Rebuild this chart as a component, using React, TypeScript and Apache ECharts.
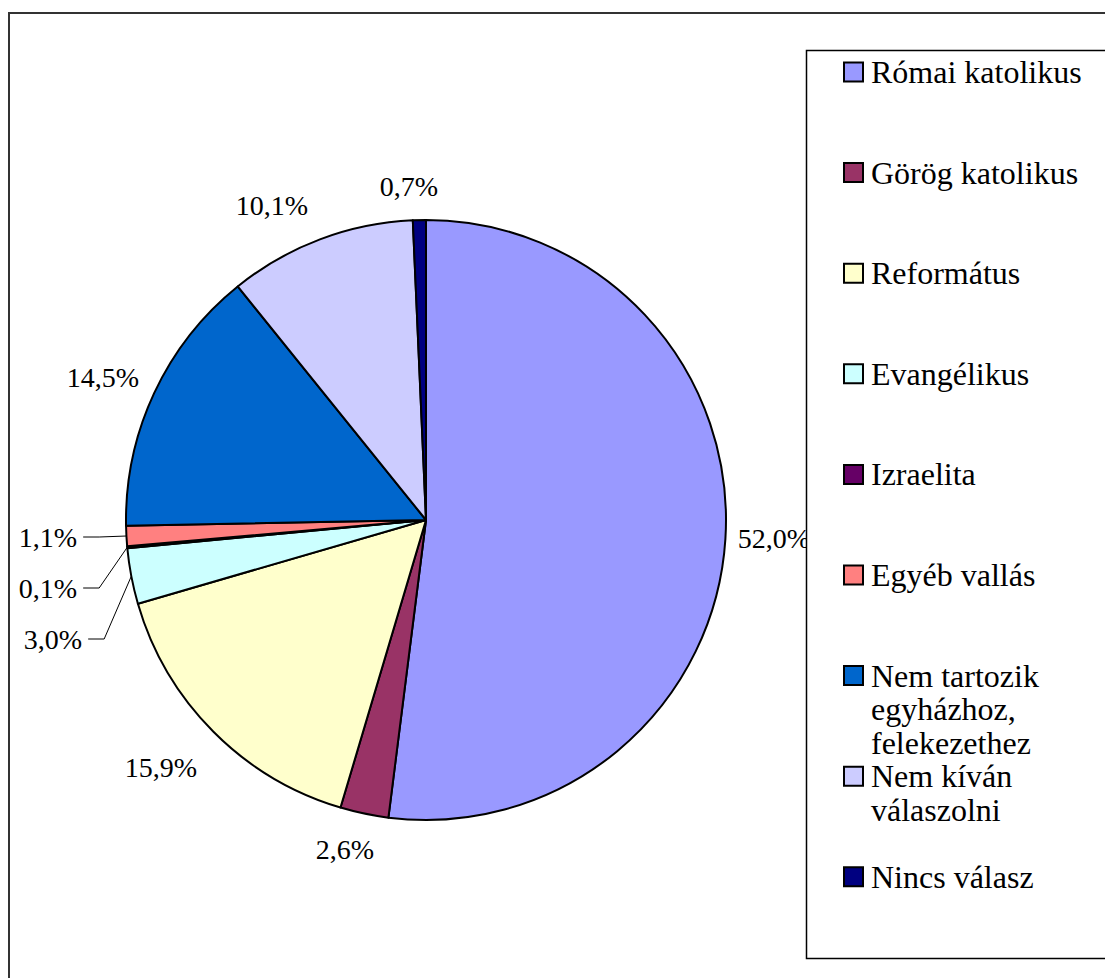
import React, { useEffect, useRef } from "react";
import * as echarts from "echarts";

// ---- data ----
const CATEGORIES = [
  "Római katolikus",
  "Görög katolikus",
  "Református",
  "Evangélikus",
  "Izraelita",
  "Egyéb vallás",
  "Nem tartozik egyházhoz, felekezethez",
  "Nem kíván válaszolni",
  "Nincs válasz",
];
const LEGEND_TEXT = [
  "Római katolikus",
  "Görög katolikus",
  "Református",
  "Evangélikus",
  "Izraelita",
  "Egyéb vallás",
  "Nem tartozik\negyházhoz,\nfelekezethez",
  "Nem kíván\nválaszolni",
  "Nincs válasz",
];
const VALUES = [52.0, 2.6, 15.9, 3.0, 0.1, 1.1, 14.5, 10.1, 0.7];
const COLORS = ["#9999FF", "#993366", "#FFFFCC", "#CCFFFF", "#660066", "#FF8080", "#0066CC", "#CCCCFF", "#000080"];
// labels that use a leader line
const LEADER = [false, false, false, true, true, true, false, false, false];

// ---- layout ----
const CX = 426;
const CY = 520;
const R = 300;
const LABEL_POS: [number, number][] = [
  [774, 538],
  [345, 849],
  [161, 767],
  [53, 639],
  [48, 588],
  [48, 537],
  [103, 377],
  [272, 205],
  [409, 186],
];
const LEGEND_TOP = 72;
const LEGEND_PITCH = 100.6;
const LEGEND_LINE_H = 33.5;
const SERIF = "Liberation Serif";

export default function App() {
  const ref = useRef<HTMLDivElement>(null);
  useEffect(() => {
    if (!ref.current) return;
    const chart = echarts.init(ref.current, undefined, { renderer: "svg" });
    const total = VALUES.reduce((a, b) => a + b, 0);
    const mids: number[] = [];
    let acc = 0;
    VALUES.forEach((v) => {
      mids.push(((acc + v / 2) / total) * Math.PI * 2);
      acc += v;
    });

    const legendEls: any[] = [];
    legendEls.push({
      type: "rect",
      z: 100,
      shape: { x: 806.5, y: 50.5, width: 400, height: 908 },
      style: { fill: "#fff", stroke: "#000", lineWidth: 1.5 },
    });
    LEGEND_TEXT.forEach((t, i) => {
      const my = LEGEND_TOP + i * LEGEND_PITCH;
      const nLines = t.split("\n").length;
      legendEls.push({
        type: "rect",
        z: 101,
        shape: { x: 844, y: my - 9.5, width: 19, height: 19 },
        style: { fill: COLORS[i], stroke: "#000", lineWidth: 2 },
      });
      legendEls.push({
        type: "text",
        z: 101,
        x: 871,
        y: my + ((nLines - 1) * LEGEND_LINE_H) / 2,
        style: {
          text: t,
          font: `32px ${SERIF}`,
          fill: "#000",
          align: "left",
          verticalAlign: "middle",
          lineHeight: LEGEND_LINE_H,
        },
      });
    });

    chart.setOption({
      animation: false,
      backgroundColor: "#fff",
      textStyle: { fontFamily: SERIF },
      graphic: {
        elements: [
          {
            type: "rect",
            z: 99,
            shape: { x: 9, y: 13, width: 1300, height: 1300 },
            style: { fill: "none", stroke: "#333", lineWidth: 2 },
          },
          ...legendEls,
        ],
      },
      series: [
        {
          type: "pie",
          center: [CX, CY],
          radius: R,
          startAngle: 90,
          clockwise: true,
          avoidLabelOverlap: false,
          itemStyle: { borderColor: "#000", borderWidth: 2 },
          label: {
            show: true,
            position: "outside",
            color: "#000",
            fontFamily: SERIF,
            fontSize: 28,
            formatter: (p: any) => p.value.toFixed(1).replace(".", ",") + "%",
          },
          labelLine: { show: false, lineStyle: { color: "#000", width: 1 } },
          labelLayout: (params: any) => {
            const i = params.dataIndex;
            const [x, y] = LABEL_POS[i];
            const res: any = { x, y, align: "center", verticalAlign: "middle" };
            if (LEADER[i]) {
              const w = params.labelRect ? params.labelRect.width : 58;
              const endX = x + w / 2 + 6;
              const edge = [CX + R * Math.sin(mids[i]), CY - R * Math.cos(mids[i])];
              res.labelLinePoints = [edge, [endX + 16, y], [endX, y]];
            }
            return res;
          },
          emphasis: { disabled: true },
          data: VALUES.map((v, i) => ({
            name: CATEGORIES[i],
            value: v,
            itemStyle: { color: COLORS[i] },
            labelLine: { show: LEADER[i] },
          })),
        },
      ],
    });
    return () => chart.dispose();
  }, []);
  return (
    <div
      ref={ref}
      style={{ position: "absolute", left: 0, top: 0, width: 1105, height: 978 }}
    />
  );
}
